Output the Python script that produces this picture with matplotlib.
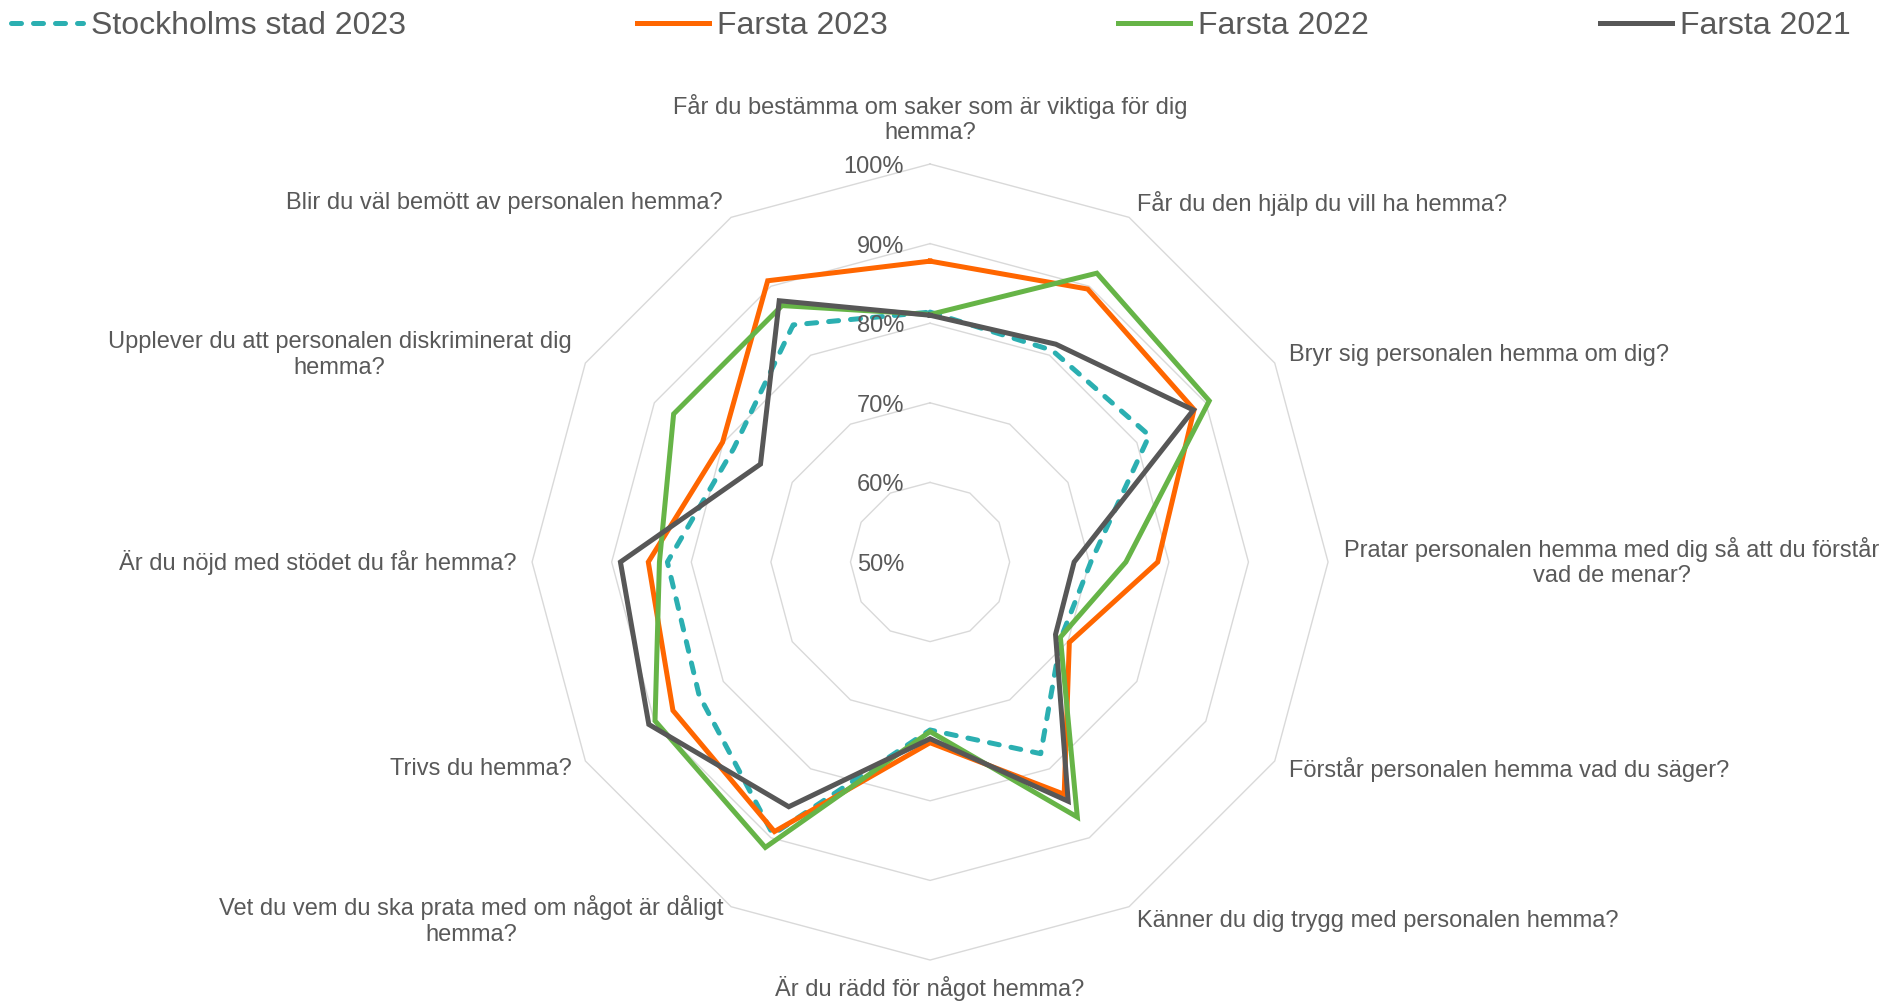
import matplotlib.pyplot as plt
import numpy as np

plt.rcParams['font.family'] = ['Liberation Sans', 'DejaVu Sans']

# Questions, clockwise from the top
categories = [
    'Får du bestämma om saker som är viktiga för dig\nhemma?',
    'Får du den hjälp du vill ha hemma?',
    'Bryr sig personalen hemma om dig?',
    'Pratar personalen hemma med dig så att du förstår\nvad de menar?',
    'Förstår personalen hemma vad du säger?',
    'Känner du dig trygg med personalen hemma?',
    'Är du rädd för något hemma?',
    'Vet du vem du ska prata med om något är dåligt\nhemma?',
    'Trivs du hemma?',
    'Är du nöjd med stödet du får hemma?',
    'Upplever du att personalen diskriminerat dig\nhemma?',
    'Blir du väl bemött av personalen hemma?',
]

# Share of positive answers (%)
stockholm_2023 = [81.4, 80.7, 81.8, 70.2, 69.0, 77.8, 71.1, 89.5, 83.5, 83.0, 78.5, 84.4]
farsta_2023 = [87.8, 89.6, 88.3, 78.6, 70.2, 83.7, 72.7, 89.1, 87.3, 85.4, 80.1, 90.8]
farsta_2022 = [81.1, 91.9, 90.5, 74.6, 68.9, 87.0, 71.3, 91.4, 89.9, 84.0, 87.2, 87.2]
farsta_2021 = [81.0, 81.6, 88.2, 68.1, 68.2, 84.7, 72.2, 85.5, 90.8, 88.9, 74.6, 87.9]

series_names = ['Stockholms stad 2023', 'Farsta 2023', 'Farsta 2022', 'Farsta 2021']
r_ticks = [50, 60, 70, 80, 90, 100]

text_color = '#595959'
grid_color = '#D9D9D9'

fig = plt.figure(figsize=(18.9, 10.02), dpi=100)
ax = fig.add_axes([0.2815, 0.0419, 0.4212, 0.7944], projection='polar')
ax.set_theta_zero_location('N')
ax.set_theta_direction(-1)
ax.set_ylim(50, 100)
ax.grid(False)
ax.spines['polar'].set_visible(False)
ax.set_xticks([])
ax.set_yticks([])
ax.patch.set_visible(False)

angles = np.linspace(0, 2 * np.pi, len(categories), endpoint=False)
closed = np.append(angles, angles[0])

# polygon grid rings
for r in r_ticks[1:]:
    ax.plot(closed, [r] * len(closed), color=grid_color, lw=1.0, zorder=1, clip_on=False)

def close(vals):
    return vals + vals[:1]

ax.plot(closed, close(stockholm_2023), color='#2BAFB1', lw=3.6, dashes=(2.0, 2.4),
        dash_capstyle='round', label=series_names[0], zorder=3)
ax.plot(closed, close(farsta_2023), color='#FF6600', lw=3.6, solid_joinstyle='miter',
        label=series_names[1], zorder=4)
ax.plot(closed, close(farsta_2022), color='#66B447', lw=3.6, solid_joinstyle='miter',
        label=series_names[2], zorder=5)
ax.plot(closed, close(farsta_2021), color='#575757', lw=3.6, solid_joinstyle='miter',
        label=series_names[3], zorder=6)

# radial tick labels left of the top axis
for r in r_ticks:
    ax.annotate(f'{r}%', xy=(0, r), xytext=(-26, -3), textcoords='offset pixels',
                ha='right', va='center', fontsize=17, color=text_color,
                annotation_clip=False)

# question labels outside the outer ring
for ang, lab in zip(angles, categories):
    s, c = np.sin(ang), np.cos(ang)
    gap = 16
    if abs(s) < 0.01:
        ha = 'center'
        va = 'bottom' if c > 0 else 'top'
        if c > 0:
            gap = 20
    else:
        ha = 'left' if s > 0 else 'right'
        va = 'center'
    ax.annotate(lab, xy=(ang, 100), xytext=(gap * s, gap * c), textcoords='offset pixels',
                ha=ha, va=va, multialignment='center', fontsize=17, color=text_color,
                annotation_clip=False)

fig.legend(loc='center', bbox_to_anchor=(0.4925, 0.974), ncol=4, frameon=False,
           fontsize=23, handlelength=2.25, handletextpad=0.25, columnspacing=7.23,
           labelcolor=text_color, borderaxespad=0)

fig.savefig('out.png', dpi=100)
